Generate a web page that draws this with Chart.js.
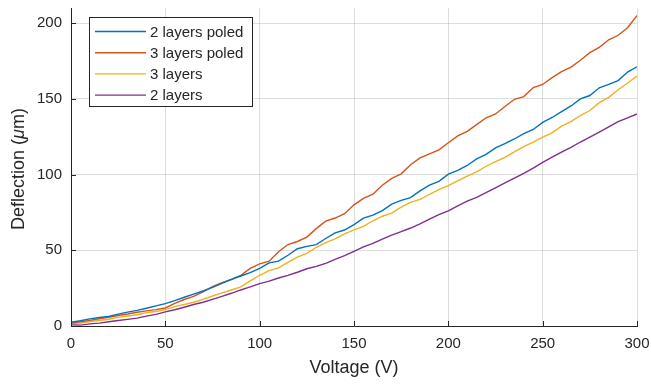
<!DOCTYPE html>
<html>
<head>
<meta charset="utf-8">
<script src="https://cdn.jsdelivr.net/npm/chart.js@4.4.1/dist/chart.umd.min.js"></script>
<style>
html,body{margin:0;padding:0;background:#fff;}
#wrap{width:651px;height:385px;}
</style>
</head>
<body>
<div id="wrap"><canvas id="c" width="651" height="385"></canvas></div>
<script>
const voltage = [0,5,10,15,20,25,30,35,40,45,50,55,60,65,70,75,80,85,90,95,100,105,110,115,120,125,130,135,140,145,150,155,160,165,170,175,180,185,190,195,200,205,210,215,220,225,230,235,240,245,250,255,260,265,270,275,280,285,290,295,300];

const twoLayersPoled = [2.5,3.5,4.7,5.6,6.3,7.8,9.2,10.3,11.7,13.3,14.8,16.8,19,21.1,23.1,25.5,28.2,30.8,33,35.3,38,41.7,42.8,46.7,51,52.6,53.7,57.8,61.5,63.4,67,71.2,73.2,76.2,80.5,83,84.8,89.2,93,95.5,100.3,102.8,106,110.3,113.4,117.6,120.5,123.5,127,129.8,134.5,137.7,141.6,145.3,150,152.2,157.3,159.5,162.1,167.7,171.2];

const threeLayersPoled = [2,2.8,3.7,4.8,5.7,6.9,7.9,9.1,10,10.8,11.9,15,17.5,19.5,22.5,26,28.7,30.7,33.5,38,41,42.8,49,53.8,55.8,58.7,64.3,69.2,71.3,74.2,80,84.3,87,93,97.5,100.5,106.5,111,113.7,116.3,121,125.5,128.5,133,137.5,140,145,149.7,151.5,157.5,159.5,164,168,171,175.5,180.5,184,189,192,197,205];

const threeLayers = [1.4,2,3,3.6,4.5,5.7,6.6,7.4,8.8,9.6,10.8,12.8,14.2,15.7,17.6,19.8,21.9,23.8,25.8,29.8,33.5,36.6,38.4,42,45.5,48,52,55,57.5,60.8,63.5,65.8,69.5,72.5,74.5,78.5,81.6,83.6,87,90,92.7,95.8,99,101.8,105.5,108.5,111.3,115,118.5,121.5,124.8,127.5,132,135,139,142.3,147.5,151,156,160.5,165];

const twoLayers = [0.8,0.6,1.4,1.9,2.8,3.6,4.4,5.2,6.5,7.7,9.3,10.7,12.4,14.2,15.7,17.6,19.6,21.6,23.8,25.8,28,29.6,31.7,33.4,35.5,37.8,39.4,41.4,44,46.5,49.3,52.2,54.6,57.4,60,62.3,64.7,67.5,70.5,73.5,76,79.3,82.5,85,88,91.2,94.5,97.7,100.8,104.3,108,111.5,114.8,118,121.5,124.7,128,131.5,135,137.5,140];

const seriesNames = ['2 layers poled','3 layers poled','3 layers','2 layers'];
const seriesColors = ['#0072BD','#D95319','#EDB120','#7E2F8E'];
const seriesValues = [twoLayersPoled, threeLayersPoled, threeLayers, twoLayers];

const xTicks = [0,50,100,150,200,250,300];
const yTicks = [0,50,100,150,200];
const yTitleParts = [['Deflection (', false], ['μ', true], ['m)', false]];

const AX = '#262626';
const FONT = "'Liberation Sans', Arial, Helvetica, sans-serif";

const datasets = seriesNames.map((name,i)=>({
  label: name,
  data: voltage.map((v,j)=>({x:v, y:seriesValues[i][j]})),
  borderColor: seriesColors[i],
  backgroundColor: seriesColors[i],
  borderWidth: 1.4,
  pointRadius: 0,
  tension: 0,
  fill: false
}));

const innerTicks = {
  id:'innerTicks',
  afterDatasetsDraw(chart){
    const {ctx, chartArea:a, scales:{x,y}} = chart;
    ctx.save();
    ctx.strokeStyle = AX;
    ctx.lineWidth = 1;
    ctx.beginPath();
    xTicks.forEach(t=>{ const px=Math.round(x.getPixelForValue(t))+0.5; ctx.moveTo(px,a.bottom); ctx.lineTo(px,a.bottom-5); });
    yTicks.forEach(t=>{ const py=Math.round(y.getPixelForValue(t))+0.5; ctx.moveTo(a.left,py); ctx.lineTo(a.left+5,py); });
    ctx.stroke();
    ctx.restore();
  }
};

const yTitle = {
  id:'yTitle',
  afterDraw(chart){
    const {ctx, chartArea:a} = chart;
    const fN = '18px ' + FONT, fI = 'italic 18px ' + FONT;
    ctx.save();
    let total = 0;
    yTitleParts.forEach(([t,it])=>{ ctx.font = it?fI:fN; total += ctx.measureText(t).width; });
    ctx.translate(19, (a.top + a.bottom)/2 + 2);
    ctx.rotate(-Math.PI/2);
    ctx.fillStyle = AX;
    ctx.textBaseline = 'middle';
    ctx.textAlign = 'left';
    let xx = -total/2;
    yTitleParts.forEach(([t,it])=>{ ctx.font = it?fI:fN; ctx.fillText(t, xx, 0); xx += ctx.measureText(t).width; });
    ctx.restore();
  }
};

const boxLegend = {
  id:'boxLegend',
  afterDraw(chart){
    const {ctx, chartArea:a} = chart;
    const bx = a.left + 18, by = 17, bw = 163, bh = 89;
    ctx.save();
    ctx.fillStyle = '#fff';
    ctx.fillRect(bx, by, bw, bh);
    ctx.strokeStyle = AX;
    ctx.lineWidth = 1;
    ctx.strokeRect(bx+0.5, by+0.5, bw, bh);
    ctx.font = '15px ' + FONT;
    ctx.textBaseline = 'middle';
    chart.data.datasets.forEach((d,i)=>{
      const yy = by + 14.5 + i*21.2;
      ctx.strokeStyle = d.borderColor;
      ctx.lineWidth = 1.4;
      ctx.beginPath();
      ctx.moveTo(bx+6, yy); ctx.lineTo(bx+57, yy);
      ctx.stroke();
      ctx.fillStyle = AX;
      ctx.fillText(d.label, bx+61, yy+1);
    });
    ctx.restore();
  }
};

new Chart(document.getElementById('c'), {
  type:'line',
  data:{ datasets },
  plugins:[innerTicks, boxLegend, yTitle],
  options:{
    responsive:false,
    animation:false,
    layout:{ padding:{ top:8, right:14, left:0, bottom:0 } },
    plugins:{ legend:{display:false}, tooltip:{enabled:false} },
    scales:{
      x:{
        type:'linear', min:0, max:300,
        afterBuildTicks(s){ s.ticks = xTicks.map(v=>({value:v})); },
        afterFit(s){ s.height = 59; s.paddingLeft = 0; s.paddingRight = 0; },
        grid:{ color:'rgba(0,0,0,0.13)', drawTicks:false },
        border:{ color:AX, width:1 },
        ticks:{ color:AX, font:{family:FONT, size:15}, padding:9, maxRotation:0 },
        title:{ display:true, text:'Voltage (V)', color:AX, font:{family:FONT, size:18}, padding:{top:0,bottom:6} }
      },
      y:{
        type:'linear', min:0, max:210,
        afterBuildTicks(s){ s.ticks = yTicks.map(v=>({value:v})); },
        afterFit(s){ s.width = 71; s.paddingTop = 0; s.paddingBottom = 0; },
        grid:{ color:'rgba(0,0,0,0.13)', drawTicks:false },
        border:{ color:AX, width:1 },
        ticks:{ color:AX, font:{family:FONT, size:15}, padding:9 },
        title:{ display:false }
      }
    }
  }
});
</script>
</body>
</html>
